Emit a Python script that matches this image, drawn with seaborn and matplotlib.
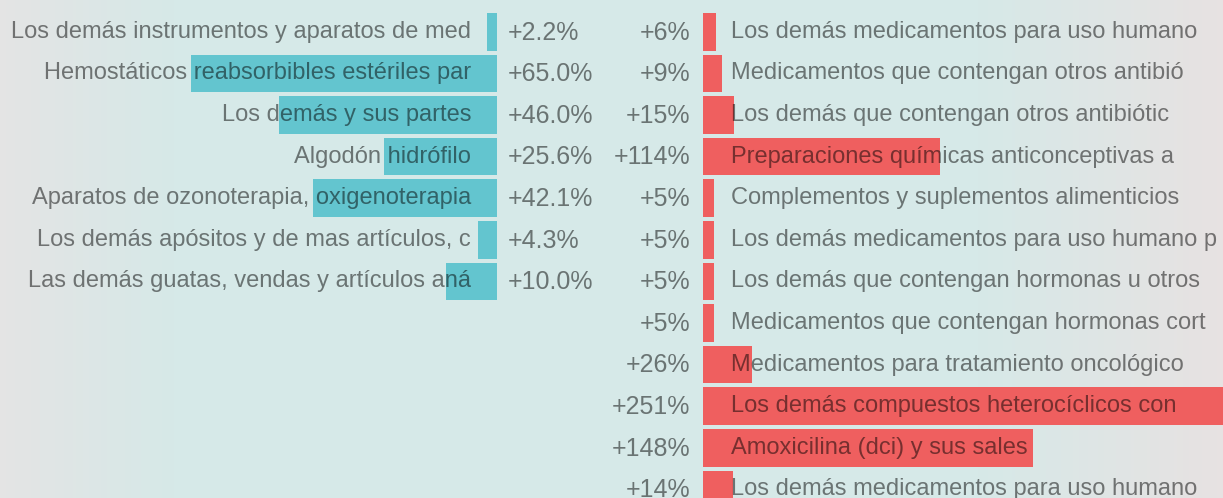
import numpy as np
import pandas as pd
import seaborn as sns
import matplotlib.pyplot as plt
from matplotlib.colors import LinearSegmentedColormap

# left side: products, bar length (as drawn) and growth label
izq_labels = ["Los demás instrumentos y aparatos de med",
              "Hemostáticos reabsorbibles estériles par",
              "Los demás y sus partes",
              "Algodón hidrófilo",
              "Aparatos de ozonoterapia, oxigenoterapia",
              "Los demás apósitos y de mas artículos, c",
              "Las demás guatas, vendas y artículos aná"]
izq_valores = [10, 306, 218, 113, 184, 19, 51]
izq_pct = ["+2.2%", "+65.0%", "+46.0%", "+25.6%", "+42.1%", "+4.3%", "+10.0%"]

# right side
der_labels = ["Los demás medicamentos para uso humano",
              "Medicamentos que contengan otros antibió",
              "Los demás que contengan otros antibiótic",
              "Preparaciones químicas anticonceptivas a",
              "Complementos y suplementos alimenticios",
              "Los demás medicamentos para uso humano p",
              "Los demás que contengan hormonas u otros",
              "Medicamentos que contengan hormonas cort",
              "Medicamentos para tratamiento oncológico",
              "Los demás compuestos heterocíclicos con",
              "Amoxicilina (dci) y sus sales",
              "Los demás medicamentos para uso humano"]
der_valores = [13, 19, 31, 237, 11, 11, 11, 11, 49, 545, 330, 30]
der_pct = ["+6%", "+9%", "+15%", "+114%", "+5%", "+5%", "+5%", "+5%",
           "+26%", "+251%", "+148%", "+14%"]

izq = pd.DataFrame({"fila": range(len(izq_valores)), "valor": izq_valores})
der = pd.DataFrame({"fila": range(len(der_valores)), "valor": der_valores})

sns.set_style("white")
plt.rcParams["font.family"] = ["Liberation Sans", "DejaVu Sans"]

W, H = 1223, 498
fig = plt.figure(figsize=(W / 100, H / 100), dpi=100)

# fondo con degradado
fondo = fig.add_axes([0, 0, 1, 1])
cmap = LinearSegmentedColormap.from_list(
    "fondo", [(0, "#e4e4e4"), (0.03, "#e1e5e5"), (0.14, "#d6e9e8"),
              (0.80, "#d6e9e8"), (1.0, "#e7e2e2")])
fondo.imshow(np.linspace(0, 1, 400)[None, :], aspect="auto", cmap=cmap,
             extent=[0, 1, 0, 1])
fondo.axis("off")

fila0, paso = 31.8, 41.6
ylim = ((H - fila0) / paso, -fila0 / paso)
txt = dict(color="black", alpha=0.5, va="center", clip_on=False, zorder=5)

teal, rojo = "#63c5cf", "#ef5f5f"

ax1 = fig.add_axes([0, 0, 497 / W, 1])
sns.barplot(data=izq, x="valor", y="fila", orient="h", color=teal,
            saturation=1, width=0.9, linewidth=0, edgecolor="none", ax=ax1)
ax1.set_xlim(497, 0)
ax1.set_ylim(*ylim)
ax1.axis("off")
ax1.patch.set_alpha(0)
for i, (lab, p) in enumerate(zip(izq_labels, izq_pct)):
    ax1.text(26, i, lab, ha="right", fontsize=17, **txt)
    ax1.text(-11, i + 0.02, p, ha="left", fontsize=18, **txt)

ax2 = fig.add_axes([703 / W, 0, 520 / W, 1])
sns.barplot(data=der, x="valor", y="fila", orient="h", color=rojo,
            saturation=1, width=0.9, linewidth=0, edgecolor="none", ax=ax2)
ax2.set_xlim(0, 520)
ax2.set_ylim(*ylim)
ax2.axis("off")
ax2.patch.set_alpha(0)
for i, (lab, p) in enumerate(zip(der_labels, der_pct)):
    ax2.text(28, i, lab, ha="left", fontsize=17, **txt)
    ax2.text(-13, i + 0.02, p, ha="right", fontsize=18, **txt)

fig.savefig("out.png", dpi=100)
